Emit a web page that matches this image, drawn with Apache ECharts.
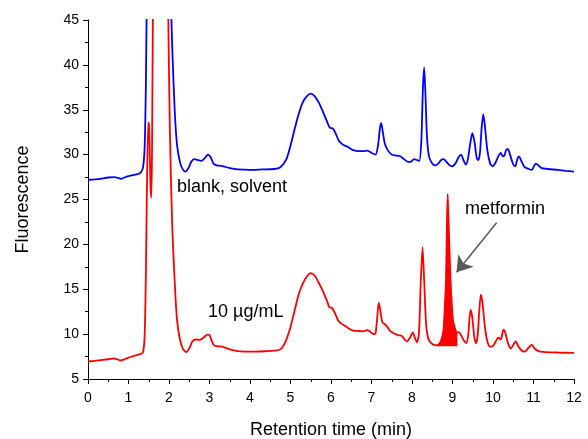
<!DOCTYPE html>
<html>
<head>
<meta charset="utf-8">
<script src="https://cdn.jsdelivr.net/npm/echarts@6/dist/echarts.min.js"></script>
<style>html,body{margin:0;padding:0;background:#fff;overflow:hidden}#c{width:588px;height:439px}</style>
</head>
<body>
<div id="c"></div>
<script>
const blankT = [0,0.3,0.5,0.65,0.75,0.82,0.9,1.05,1.2,1.3,1.36,1.40,1.43,1.46,1.6,1.9,2.03,2.08,2.14,2.2,2.28,2.35,2.41,2.48,2.55,2.62,2.72,2.8,2.9,2.96,3.03,3.1,3.18,3.3,3.5,3.7,4.0,4.3,4.6,4.75,4.9,5.0,5.1,5.2,5.3,5.4,5.5,5.6,5.7,5.8,5.9,5.97,6.05,6.12,6.2,6.3,6.4,6.55,6.7,6.8,6.9,7.0,7.1,7.16,7.21,7.24,7.28,7.33,7.4,7.5,7.6,7.7,7.8,7.9,7.97,8.05,8.12,8.18,8.23,8.27,8.30,8.33,8.37,8.42,8.5,8.57,8.65,8.72,8.78,8.85,8.93,8.99,9.07,9.15,9.21,9.27,9.33,9.38,9.44,9.49,9.54,9.6,9.64,9.68,9.72,9.76,9.8,9.86,9.93,9.99,10.06,10.13,10.19,10.24,10.28,10.34,10.37,10.42,10.5,10.55,10.6,10.64,10.7,10.78,10.88,10.96,11.02,11.06,11.12,11.2,11.35,11.6,11.8,12.0];
const blankV = [27.2,27.3,27.45,27.5,27.4,27.3,27.45,27.65,27.8,28.0,28.6,31,38,50,80,80,50,42,35,31,29,28.3,28.1,28.5,29.2,29.5,29.4,29.3,29.7,30.0,29.7,29.0,28.8,28.75,28.5,28.35,28.3,28.35,28.4,28.6,29.5,31,32.8,34.5,35.8,36.5,36.8,36.5,35.8,34.8,33.7,33.0,32.9,32.3,31.5,31.1,30.9,30.5,30.4,30.4,30.45,30.2,30.0,31.0,33.0,33.5,32.5,31.2,30.5,30.0,29.9,29.85,29.5,29.2,29.2,29.5,29.4,29.3,31.5,37.5,39.7,37,32,29.8,29.0,28.8,29.0,29.4,29.5,29.2,28.8,28.7,29.0,29.7,30.0,29.4,28.9,29.5,31.3,32.4,31.5,29.6,29.4,30.3,33,34.5,33.2,30.5,29.0,28.7,29.1,29.8,30.2,29.8,29.9,30.6,30.6,30.0,28.9,28.7,29.5,29.8,29.3,28.6,28.4,28.3,28.8,29.0,28.8,28.5,28.4,28.3,28.2,28.1];

const sampleT = [0,0.3,0.5,0.64,0.72,0.81,0.9,1.05,1.2,1.3,1.36,1.40,1.43,1.46,1.49,1.51,1.54,1.56,1.58,1.61,1.7,1.9,1.97,2.02,2.08,2.15,2.2,2.27,2.35,2.43,2.5,2.58,2.66,2.75,2.85,2.95,3.0,3.06,3.11,3.2,3.31,3.5,3.7,3.85,4.1,4.4,4.6,4.75,4.88,5.0,5.1,5.2,5.3,5.4,5.5,5.6,5.7,5.8,5.9,5.96,6.03,6.1,6.18,6.25,6.35,6.45,6.55,6.7,6.8,6.88,6.95,7.05,7.1,7.14,7.18,7.22,7.27,7.33,7.38,7.45,7.55,7.65,7.75,7.82,7.88,7.95,8.02,8.07,8.12,8.17,8.21,8.26,8.3,8.35,8.41,8.5,8.61,8.7,8.75,8.78,8.81,8.84,8.88,8.91,8.95,8.98,9.01,9.05,9.09,9.13,9.17,9.22,9.28,9.34,9.39,9.42,9.45,9.49,9.54,9.58,9.62,9.66,9.70,9.74,9.8,9.86,9.93,10.0,10.07,10.13,10.19,10.26,10.3,10.37,10.44,10.5,10.56,10.62,10.7,10.79,10.88,10.96,11.03,11.12,11.3,11.6,12.0];
const sampleV = [6.95,7.1,7.2,7.3,7.2,7.06,7.2,7.45,7.65,7.8,8.0,10,17,28,33.6,33,27,25.2,30,50,80,80,50,33,22,15,11.5,9.4,8.3,8.0,8.4,9.2,9.4,9.35,9.6,9.95,9.9,9.2,8.75,8.65,8.6,8.3,8.1,8.05,8.05,8.1,8.15,8.3,9.2,10.8,12.6,14.4,15.6,16.4,16.8,16.5,15.7,14.8,13.7,13.0,12.9,12.3,11.5,11.2,10.9,10.6,10.4,10.35,10.3,10.45,10.35,10.0,10.1,11.8,13.5,12.6,11.3,11.1,10.9,10.4,10.1,9.9,9.8,9.4,9.2,9.6,10.2,9.6,9.1,10,15,19.7,16,11,9.4,8.9,8.75,9.1,9.8,10.5,13,16.1,25.6,21.5,16.1,13.5,11.6,10.8,10.3,10.2,10.2,9.8,9.3,9.0,10,11.8,12.7,11.8,9.6,9.0,9.8,12.5,14.4,13.5,10.8,9.2,8.6,8.7,9.2,9.6,9.4,10.5,10.2,9.0,8.4,8.8,9.2,8.7,8.2,8.05,8.5,8.8,8.4,8.1,8.0,7.95,7.9];

const metT = [8.61,8.7,8.75,8.78,8.81,8.84,8.88,8.91,8.95,8.98,9.01,9.05,9.09,9.12];
const metV = [8.75,9.1,9.8,10.5,13,16.1,25.6,21.5,16.1,13.5,11.6,10.8,10.3,10.2];
const metBase = 8.65;

const xTicks = [0,1,2,3,4,5,6,7,8,9,10,11,12];
const yTicks = [5,10,15,20,25,30,35,40,45];

const zip = (a, b) => a.map((t, i) => [t, b[i]]);
const FONT = 'Liberation Sans, Arial, sans-serif';

const chart = echarts.init(document.getElementById('c'), null, {renderer: 'canvas', width: 588, height: 439});
chart.setOption({
  animation: false,
  backgroundColor: '#ffffff',
  grid: {left: 88, right: 14, top: 20, bottom: 60, containLabel: false, outerBoundsMode: 'none'},
  xAxis: {
    type: 'value', min: xTicks[0], max: xTicks[xTicks.length - 1], interval: 1,
    name: 'Retention time (min)', nameLocation: 'middle', nameGap: 42,
    nameTextStyle: {fontFamily: FONT, fontSize: 18, color: '#000'},
    axisLine: {show: true, onZero: false, lineStyle: {color: '#000', width: 1}},
    axisTick: {show: true, inside: false, length: 5, lineStyle: {color: '#000'}},
    minorTick: {show: true, splitNumber: 2, length: 3, lineStyle: {color: '#000'}},
    splitLine: {show: false},
    axisLabel: {fontFamily: FONT, fontSize: 14, color: '#000', margin: 12, showMaxLabel: true}
  },
  yAxis: {
    type: 'value', min: yTicks[0], max: yTicks[yTicks.length - 1], interval: 5,
    name: 'Fluorescence', nameLocation: 'middle', nameGap: 56, nameRotate: 90,
    nameTextStyle: {fontFamily: FONT, fontSize: 18, color: '#000'},
    axisLine: {show: true, lineStyle: {color: '#000', width: 1}},
    axisTick: {show: true, inside: false, length: 5, lineStyle: {color: '#000'}},
    minorTick: {show: true, splitNumber: 2, length: 3, lineStyle: {color: '#000'}},
    splitLine: {show: false},
    axisLabel: {fontFamily: FONT, fontSize: 14, color: '#000', margin: 9}
  },
  series: [
    {
      name: 'blank, solvent', type: 'line', data: zip(blankT, blankV),
      showSymbol: false, smooth: 0.25, clip: true,
      lineStyle: {color: '#0000ff', width: 1.8}
    },
    {
      name: '10 µg/mL', type: 'line', data: zip(sampleT, sampleV),
      showSymbol: false, smooth: 0.25, clip: true,
      lineStyle: {color: '#ff0000', width: 1.8}
    },
    {
      name: 'metformin', type: 'line', data: zip(metT, metV),
      showSymbol: false, smooth: 0.25, clip: true,
      lineStyle: {color: '#ff0000', width: 0.5},
      areaStyle: {color: '#ff0000', opacity: 1, origin: metBase},
      markLine: {
        silent: true, animation: false,
        symbol: ['none', 'arrow'], symbolSize: 15,
        lineStyle: {color: '#5a5a5a', width: 1.5, type: 'solid'},
        label: {show: false},
        data: [[{coord: [10.09, 22.4]}, {coord: [9.1, 16.9]}]]
      }
    }
  ],
  graphic: [
    {type: 'text', left: 177, top: 178, style: {text: 'blank, solvent', font: '18px ' + FONT, fill: '#000'}},
    {type: 'text', left: 208, top: 303, style: {text: '10 µg/mL', font: '18px ' + FONT, fill: '#000'}},
    {type: 'text', left: 465, top: 200, style: {text: 'metformin', font: '18px ' + FONT, fill: '#000'}}
  ]
});
</script>
</body>
</html>
